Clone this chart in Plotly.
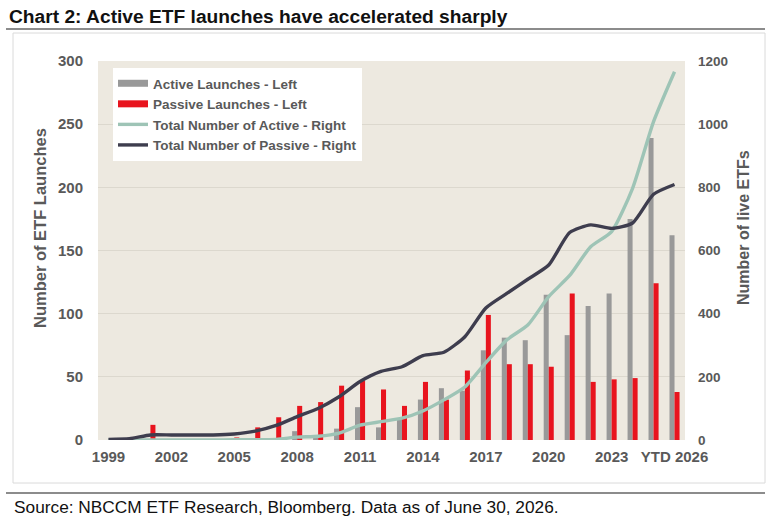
import plotly.graph_objects as go

# ---------------- data ----------------
categories = [str(y) for y in range(1999, 2026)] + ["YTD 2026"]
active_launches = [0, 0, 0, 0, 0, 0, 0, 0, 1, 7, 2, 9, 26, 10, 17, 32, 41, 39,
                   71, 81, 79, 115, 83, 106, 116, 175, 239, 162]
passive_launches = [0, 0, 12, 0, 0, 0, 2, 10, 18, 27, 30, 43, 47, 40, 27, 46, 32, 55,
                    99, 60, 60, 58, 116, 46, 48, 49, 124, 38]
total_active = [0, 0, 0, 0, 0, 0, 1, 1, 2, 9, 12, 22, 47, 58, 69, 92, 127, 168,
                245, 317, 364, 454, 521, 612, 660, 797, 1008, 1166]
total_passive = [2, 4, 16, 16, 16, 16, 19, 28, 46, 74, 100, 137, 185, 217, 232, 267, 278, 327,
                 418, 464, 509, 554, 657, 681, 670, 687, 778, 809]
tick_labels = ["1999", "2002", "2005", "2008", "2011", "2014", "2017", "2020", "2023", "YTD 2026"]

title_text = "Chart 2: Active ETF launches have accelerated sharply"
source_text = "Source: NBCCM ETF Research, Bloomberg. Data as of June 30, 2026."

# ---------------- layout geometry (pixels) ----------------
W, H = 780, 527
PL, PR, PT, PB = 98, 685, 61, 440


def px(x):
    return (x - PL) / (PR - PL)


def py(y):
    return (PB - y) / (PB - PT)


FONT = "Liberation Sans, Arial, sans-serif"
TXT = "#595959"
C_ACT_BAR = "#999999"
C_PAS_BAR = "#E8141E"
C_ACT_LINE = "#9EC4B6"
C_PAS_LINE = "#3E3D4E"

fig = go.Figure()
fig.add_trace(go.Bar(x=categories, y=active_launches, name="Active Launches - Left",
                     marker=dict(color=C_ACT_BAR, line=dict(width=0)), showlegend=False))
fig.add_trace(go.Bar(x=categories, y=passive_launches, name="Passive Launches - Left",
                     marker=dict(color=C_PAS_BAR, line=dict(width=0)), showlegend=False))
# legend entries drawn as thick strokes like the original
fig.add_trace(go.Scatter(x=[None], y=[None], name="Active Launches - Left", mode="lines",
                         line=dict(color=C_ACT_BAR, width=7), legendrank=1))
fig.add_trace(go.Scatter(x=[None], y=[None], name="Passive Launches - Left", mode="lines",
                         line=dict(color=C_PAS_BAR, width=7), legendrank=2))
fig.add_trace(go.Scatter(x=categories, y=total_active, name="Total Number of Active - Right",
                         mode="lines", yaxis="y2", legendrank=3,
                         line=dict(color=C_ACT_LINE, width=3.4, shape="spline", smoothing=0.6)))
fig.add_trace(go.Scatter(x=categories, y=total_passive, name="Total Number of Passive - Right",
                         mode="lines", yaxis="y2", legendrank=4,
                         line=dict(color=C_PAS_LINE, width=3.4, shape="spline", smoothing=0.6)))

shapes = [
    dict(type="line", xref="paper", yref="paper", x0=px(6), x1=px(765), y0=py(29), y1=py(29),
         line=dict(color="#8C8C8C", width=2)),
    dict(type="rect", xref="paper", yref="paper", x0=px(13), x1=px(765), y0=py(33), y1=py(483),
         line=dict(color="#DADADA", width=1), layer="below"),
    dict(type="line", xref="paper", yref="paper", x0=px(6), x1=px(765), y0=py(493), y1=py(493),
         line=dict(color="#8C8C8C", width=2)),
]

annotations = [
    dict(text="<b>" + title_text + "</b>", xref="paper", yref="paper", x=px(7), y=py(16),
         xanchor="left", yanchor="middle", showarrow=False,
         font=dict(family=FONT, size=19.2, color="#111111")),
    dict(text=source_text, xref="paper", yref="paper", x=px(12), y=py(507),
         xanchor="left", yanchor="middle", showarrow=False,
         font=dict(family=FONT, size=17.3, color="#111111")),
    dict(text="<b>Number of ETF Launches</b>", xref="paper", yref="paper", x=px(40), y=py(228),
         xanchor="center", yanchor="middle", showarrow=False, textangle=-90,
         font=dict(family=FONT, size=16.5, color=TXT)),
    dict(text="<b>Number of live ETFs</b>", xref="paper", yref="paper", x=px(743), y=py(228),
         xanchor="center", yanchor="middle", showarrow=False, textangle=-90,
         font=dict(family=FONT, size=16, color=TXT)),
]

fig.update_layout(
    width=W, height=H,
    margin=dict(l=PL, r=W - PR, t=PT, b=H - PB),
    paper_bgcolor="white",
    plot_bgcolor="#EDE9E0",
    barmode="group",
    bargap=0.52,
    bargroupgap=0,
    font=dict(family=FONT, color=TXT),
    showlegend=True,
    legend=dict(x=px(113), y=py(68), xanchor="left", yanchor="top",
                bgcolor="white", borderwidth=0,
                font=dict(family=FONT, size=13.5, color=TXT, weight="bold"),
                tracegroupgap=0, itemwidth=30),
    xaxis=dict(type="category", tickmode="array", tickvals=tick_labels, ticktext=tick_labels,
               showgrid=False, zeroline=False, showline=False, ticks="",
               tickfont=dict(family=FONT, size=15, color=TXT, weight="bold"),
               ticklabelstandoff=6),
    yaxis=dict(range=[0, 300], dtick=50, showgrid=True, gridcolor="#DCD8CE", gridwidth=1,
               zeroline=False, showline=False, ticks="",
               tickfont=dict(family=FONT, size=15, color=TXT, weight="bold"),
               ticklabelstandoff=14),
    yaxis2=dict(range=[0, 1200], dtick=200, overlaying="y", side="right", showgrid=False,
                zeroline=False, showline=False, ticks="",
                tickfont=dict(family=FONT, size=13.5, color=TXT, weight="bold"),
                ticklabelstandoff=12),
    shapes=shapes,
    annotations=annotations,
)

fig.write_html("out.html")
